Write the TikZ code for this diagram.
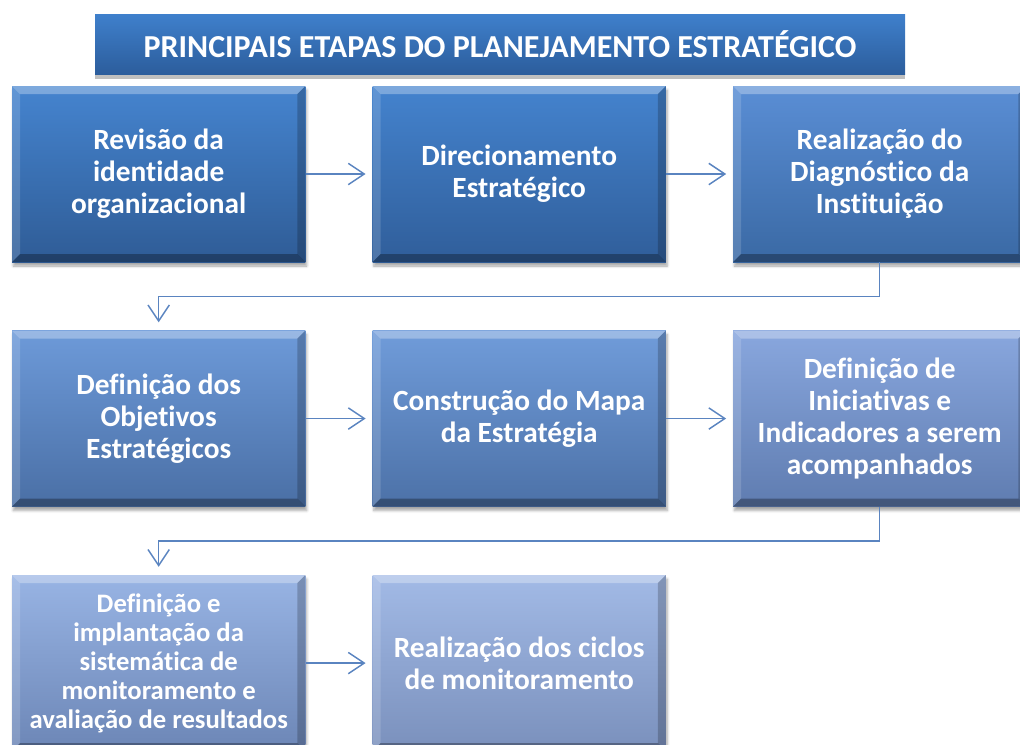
\documentclass[tikz,border=0pt]{standalone}
\usepackage{fontspec}
\setmainfont{Carlito}[Ligatures=NoCommon]
\usetikzlibrary{positioning,shadows.blur,arrows.meta}
\definecolor{linha}{HTML}{5A84C0}
\definecolor{tituloA}{HTML}{3F80CC}
\definecolor{tituloB}{HTML}{2C5D9C}
\definecolor{umA}{HTML}{4584CF}   \definecolor{umB}{HTML}{2F5C96}
\definecolor{doisA}{HTML}{4483CE} \definecolor{doisB}{HTML}{305E9A}
\definecolor{tresA}{HTML}{5A8ED5} \definecolor{tresB}{HTML}{3A69A4}
\definecolor{quatroA}{HTML}{6D9AD9} \definecolor{quatroB}{HTML}{4A6FA5}
\definecolor{cincoA}{HTML}{709CDA} \definecolor{cincoB}{HTML}{4C71A7}
\definecolor{seisA}{HTML}{89A7DE} \definecolor{seisB}{HTML}{5F7CB0}
\definecolor{seteA}{HTML}{98B4E4} \definecolor{seteB}{HTML}{6C86B6}
\definecolor{oitoA}{HTML}{A2BAE6} \definecolor{oitoB}{HTML}{7A90BC}

\begin{document}
\begin{tikzpicture}
\tikzstyle{chanfro} = [path picture={ % bisel claro em cima/esquerda, escuro em baixo/direita
  \fill[white,opacity=.30] (path picture bounding box.north west) -- (path picture bounding box.north east) -- ([shift={(-6pt,-6pt)}]path picture bounding box.north east) -- ([shift={(6pt,-6pt)}]path picture bounding box.north west) -- cycle;
  \fill[white,opacity=.15] (path picture bounding box.north west) -- ([shift={(6pt,-6pt)}]path picture bounding box.north west) -- ([shift={(6pt,6pt)}]path picture bounding box.south west) -- (path picture bounding box.south west) -- cycle;
  \fill[black,opacity=.20] (path picture bounding box.north east) -- ([shift={(-6pt,-6pt)}]path picture bounding box.north east) -- ([shift={(-6pt,6pt)}]path picture bounding box.south east) -- (path picture bounding box.south east) -- cycle;
  \fill[black,opacity=.30] (path picture bounding box.south west) -- ([shift={(6pt,6pt)}]path picture bounding box.south west) -- ([shift={(-6pt,6pt)}]path picture bounding box.south east) -- (path picture bounding box.south east) -- cycle;}]
\tikzstyle{etapa} = [chanfro, rectangle, minimum width=220pt, minimum height=132pt, inner sep=0pt, align=center, text=white, font=\fontsize{22}{24}\selectfont\bfseries, blur shadow={shadow xshift=1pt, shadow yshift=-3pt, shadow blur steps=6, shadow opacity=35}] % caixa de cada etapa
\tikzstyle{seta} = [draw=linha, line width=1.1pt, -{Straight Barb[length=12pt,width=16pt,line width=1.1pt]}] % conector

\clip (0,0) rectangle (765pt,-558pt); % tamanho da figura

\node[minimum width=607.5pt, minimum height=45pt, top color=tituloA, bottom color=tituloB, text=white, font=\fontsize{24}{28}\selectfont\bfseries, drop shadow={shadow xshift=0pt, shadow yshift=-4pt, fill=black!25, opacity=1}] (titulo) at (375pt,-33pt) {PRINCIPAIS ETAPAS DO PLANEJAMENTO ESTRATÉGICO};

\node[etapa, top color=umA, bottom color=umB] (d1) at (119pt,-130.5pt) {Revisão da\\identidade\\organizacional};
\node[etapa, top color=doisA, bottom color=doisB, right=50pt of d1] (d2) {Direcionamento\\Estratégico};
\node[etapa, top color=tresA, bottom color=tresB, right=50pt of d2] (d3) {Realização do\\Diagnóstico da\\Instituição};
\node[etapa, top color=quatroA, bottom color=quatroB, below=51pt of d1] (d4) {Definição dos\\Objetivos\\Estratégicos};
\node[etapa, top color=cincoA, bottom color=cincoB, right=50pt of d4] (d5) {Construção do Mapa\\da Estratégia};
\node[etapa, top color=seisA, bottom color=seisB, right=50pt of d5] (d6) {Definição de\\Iniciativas e\\Indicadores a serem\\acompanhados};
\node[etapa, top color=seteA, bottom color=seteB, below=51pt of d4, font=\fontsize{20}{21.75}\selectfont\bfseries] (d7) {Definição e\\implantação da\\sistemática de\\monitoramento e\\avaliação de resultados};
\node[etapa, top color=oitoA, bottom color=oitoB, right=50pt of d7] (d8) {Realização dos ciclos\\de monitoramento};

\draw[seta, shorten >=5pt] (d1) -- (d2); % linha 1
\draw[seta, shorten >=5pt] (d2) -- (d3);
\draw[seta, shorten >=6pt] (d3.south) -- ++(0,-25.5pt) -| (d4.north); % volta para a linha 2
\draw[seta, shorten >=5pt] (d4) -- (d5);
\draw[seta, shorten >=5pt] (d5) -- (d6);
\draw[seta, shorten >=6pt] (d6.south) -- ++(0,-25.5pt) -| (d7.north); % volta para a linha 3
\draw[seta, shorten >=5pt] (d7) -- (d8);
\end{tikzpicture}
\end{document}
